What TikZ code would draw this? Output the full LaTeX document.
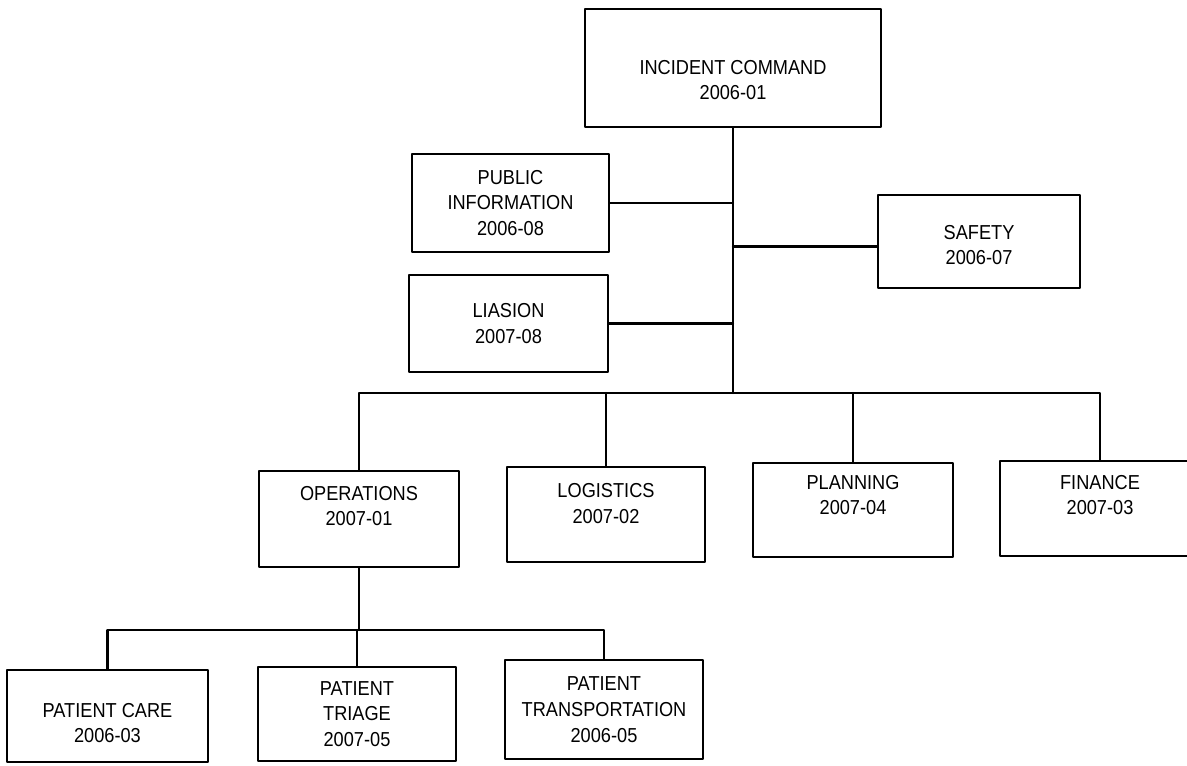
\documentclass[tikz,border=0pt]{standalone}
\usepackage{fontspec}
\setmainfont{Liberation Sans}[FakeStretch=0.9]
\begin{document}
\begin{tikzpicture}[line cap=round, line join=round, font=\fontsize{11.5}{14.7}\selectfont, line width=1.3pt]
	\tikzset{unit/.style={draw, minimum width=4cm, minimum height=1.9cm, inner sep=0pt},
		txt/.style={align=center, inner sep=0pt}}
	\useasboundingbox (0,0) rectangle (23.74,-15.3);
	\clip (0,0) rectangle (23.74,-15.3);
	\node[unit, minimum width=5.92cm, minimum height=2.36cm] (ic) at (14.66,-1.36) {};
	\node[unit, minimum width=3.94cm, minimum height=1.96cm] (pub) at (10.21,-4.06) {};
	\node[unit, minimum width=4.04cm, minimum height=1.86cm] (saf) at (19.58,-4.83) {};
	\node[unit, minimum width=3.98cm, minimum height=1.94cm] (lia) at (10.17,-6.47) {};
	\node[unit, minimum height=1.92cm] (ops) at (7.18,-10.38) {};
	\node[unit, minimum width=3.96cm] (log) at (12.12,-10.29) {};
	\node[unit, minimum height=1.88cm] (pla) at (17.06,-10.2) {};
	\node[unit] (fin) at (22.0,-10.17) {};
	\node[unit, minimum width=4.02cm, minimum height=1.84cm] (care) at (2.15,-14.32) {};
	\node[unit, minimum width=3.96cm, minimum height=1.88cm] (tri) at (7.14,-14.28) {};
	\node[unit, minimum width=3.96cm, minimum height=1.98cm] (trn) at (12.08,-14.19) {};
	\node[txt] (ic-t) at ([yshift=-.24cm]ic) {INCIDENT COMMAND\\2006-01};
	\node[txt] (pub-t) at (pub) {PUBLIC\\INFORMATION\\2006-08};
	\node[txt] (saf-t) at ([yshift=-.07cm]saf) {SAFETY\\2006-07};
	\node[txt] (lia-t) at (lia) {LIASION\\2007-08};
	\node[txt] (ops-t) at ([yshift=.26cm]ops) {OPERATIONS\\2007-01};
	\node[txt] (log-t) at ([yshift=.22cm]log) {LOGISTICS\\2007-02};
	\node[txt] (pla-t) at ([yshift=.3cm]pla) {PLANNING\\2007-04};
	\node[txt] (fin-t) at ([yshift=.27cm]fin) {FINANCE\\2007-03};
	\node[txt] (care-t) at ([yshift=-.14cm]care) {PATIENT CARE\\2006-03};
	\node[txt] (tri-t) at (tri) {PATIENT\\TRIAGE\\2007-05};
	\node[txt] (trn-t) at (trn) {PATIENT\\TRANSPORTATION\\2006-05};
	\coordinate (hub) at (14.66,-7.86);
	\coordinate (sub) at (7.18,-12.6);
	\draw (ic) -- (hub);
	\draw (pub) -- (pub -| hub);
	\draw (lia) -- (lia -| hub);
	\draw ([yshift=-.1cm]saf.west) -- ([yshift=-.1cm]saf.west -| hub);
	\draw (ops.north) |- (hub) -| (fin.north);
	\draw (log) -- (log |- hub);
	\draw (pla) -- (pla |- hub);
	\draw (ops) -- (sub);
	\draw (care.north) |- (sub) -| (trn.north);
	\draw (tri) -- (tri |- sub);
\end{tikzpicture}
\end{document}
